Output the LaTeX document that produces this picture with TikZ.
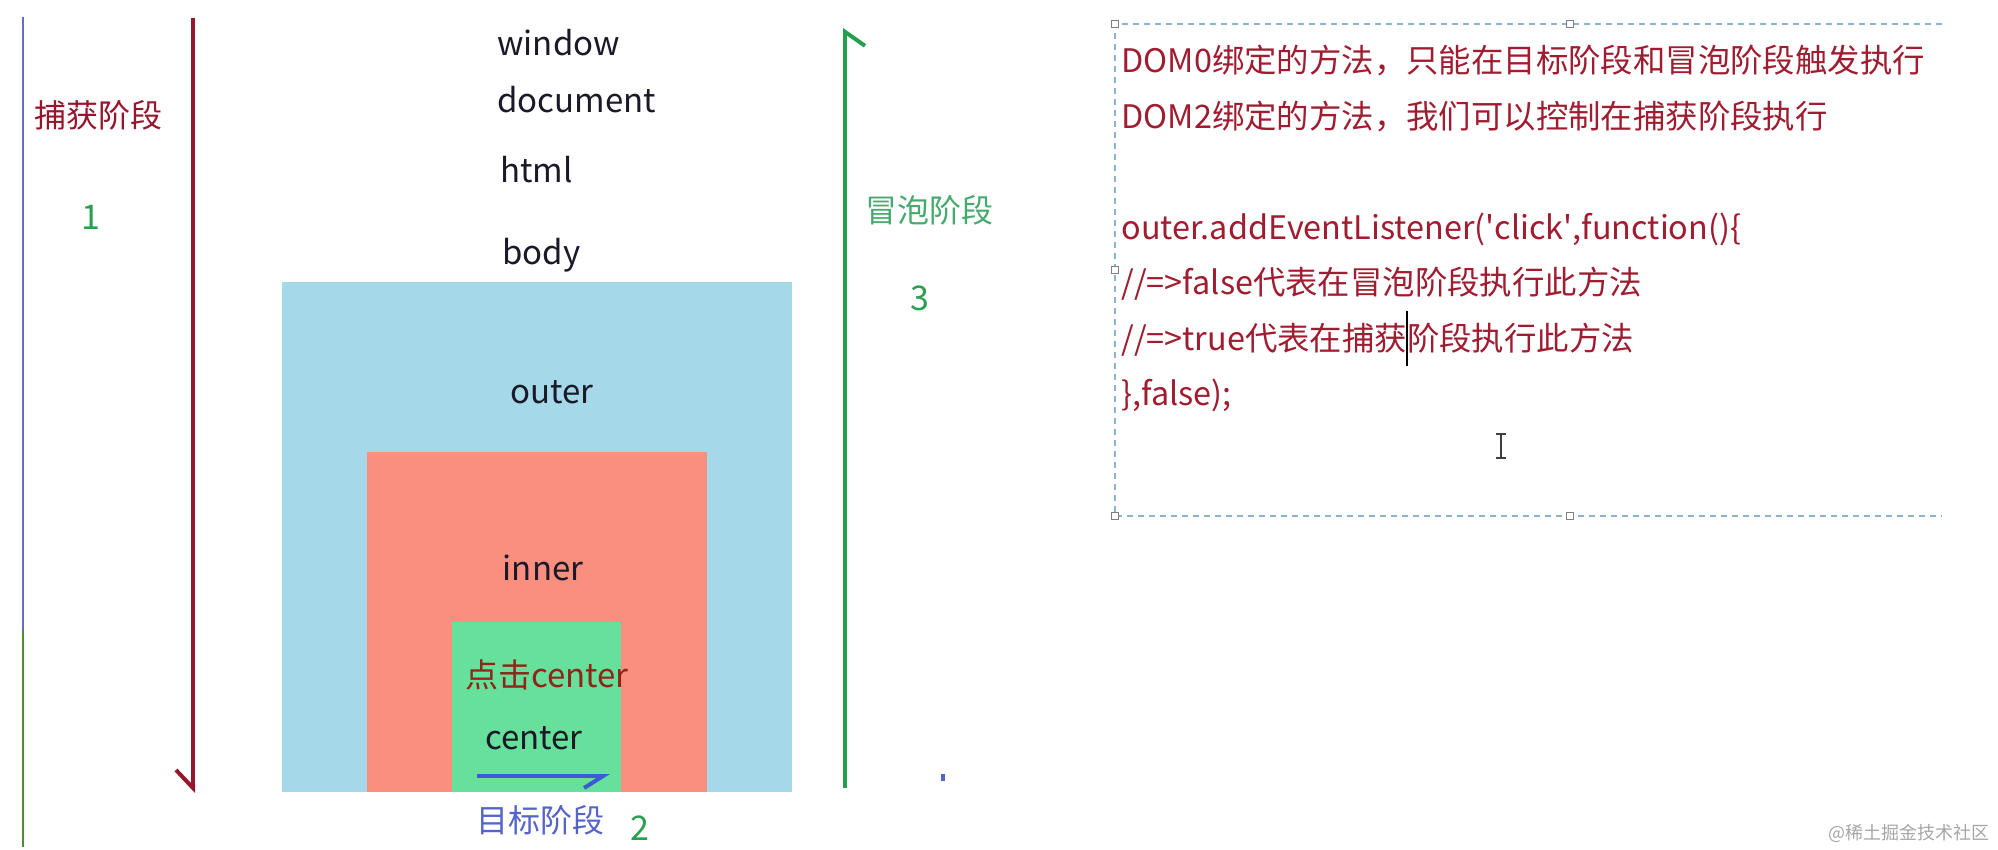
\documentclass[tikz,border=0pt]{standalone}
\usepackage{fontspec}
\setmainfont{Noto Sans CJK SC}
\usepackage{tikz}
\usetikzlibrary{positioning,arrows.meta}
\definecolor{capred}{RGB}{150,22,45}
\definecolor{bubgreen}{RGB}{34,160,80}
\definecolor{tgtblue}{RGB}{60,90,210}
\definecolor{outerblue}{RGB}{165,216,232}
\definecolor{innerred}{RGB}{250,143,128}
\definecolor{centergreen}{RGB}{102,224,154}
\definecolor{codered}{RGB}{160,28,48}
\definecolor{namegreen}{RGB}{70,170,110}
\definecolor{numgreen}{RGB}{40,160,80}
\definecolor{tgtname}{RGB}{85,100,200}
\definecolor{clickbrown}{RGB}{140,40,25}
\definecolor{selblue}{RGB}{140,180,210}
\definecolor{tagblack}{RGB}{25,25,40}
\definecolor{edgeblue}{RGB}{100,110,200}
\definecolor{edgegreen}{RGB}{80,140,50}
\newcommand{\inscaret}{\makebox[0pt]{\color{black}\rule[-8pt]{1pt}{27.5pt}}}
\tikzset{
  capture/.style={draw=capred, line width=2pt,
    -{Straight Barb[harpoon,swap,length=9pt,width=17pt]}},
  bubble/.style={draw=bubgreen, line width=2pt,
    -{Straight Barb[harpoon,swap,length=7pt,width=20pt]}},
  target/.style={draw=tgtblue, line width=2pt,
    -{Straight Barb[harpoon,swap,length=9.5pt,width=12pt]}},
  tag/.style={text=tagblack, font=\fontsize{16.5pt}{18pt}\selectfont, inner sep=0pt},
  phasename/.style={font=\fontsize{16pt}{18pt}\selectfont, inner sep=0pt},
  phasenum/.style={text=numgreen, font=\fontsize{17pt}{19pt}\selectfont, inner sep=0pt},
  codetext/.style={text=codered, align=left, inner sep=0pt,
    font=\fontsize{16.2pt}{27.75pt}\selectfont},
  selbox/.style={draw=selblue, line width=0.75pt, dash pattern=on 3pt off 2.5pt},
  handle/.style={draw=gray, fill=white, line width=0.6pt},
  ibeam/.style={draw=black!75, line width=1pt},
  watermark/.style={text=gray!70, font=\fontsize{9pt}{10pt}\selectfont, inner sep=0pt}
}
\begin{document}
\begin{tikzpicture}[x=0.5pt,y=-0.5pt]
  \useasboundingbox (0,0) rectangle (1998,850);

  % nested boxes
  \coordinate (outerNW) at (282,282);
  \coordinate (outerSE) at (792,792);
  \coordinate (innerNW) at (367,452);
  \coordinate (innerSE) at (707,792);
  \coordinate (centerNW) at (452,622);
  \coordinate (centerSE) at (621,792);
  \fill[outerblue] (outerNW) rectangle (outerSE);
  \fill[innerred] (innerNW) rectangle (innerSE);
  \fill[centergreen] (centerNW) rectangle (centerSE);

  % left edge
  \coordinate (edgeTop) at (23,17);
  \coordinate (edgeMid) at (23,630);
  \coordinate (edgeBot) at (23,847);
  \draw[edgeblue, line width=0.75pt] (edgeTop) -- (edgeMid);
  \draw[edgegreen, line width=0.75pt] (edgeMid) -- (edgeBot);

  % phase arrows
  \coordinate (capTop) at (193,18);
  \coordinate (capEnd) at (193,793);
  \draw[capture] (capTop) -- (capEnd);
  \coordinate (bubStart) at (845,788);
  \coordinate (bubEnd) at (845,28);
  \draw[bubble] (bubStart) -- (bubEnd);
  \coordinate (tgtStart) at (477,776);
  \coordinate (tgtEnd) at (610,776);
  \draw[target] (tgtStart) -- (tgtEnd);

  % window ... body
  \node[tag, anchor=west] (window) at (497,43) {window};
  \node[tag, below=28.5pt of window.west, anchor=west] (document) {document};
  \node[tag, below=35pt of document.west, anchor=west, xshift=1.5pt] (html) {html};
  \node[tag, below=42.5pt of html.west, anchor=west, xshift=1pt] (body) {body};

  \node[tag] (outer) at (552,392) {outer};
  \node[tag] (inner) at (543,568) {inner};
  \node[tag, text=clickbrown] (click) at (547,675) {点击center};
  \node[tag] (center) at (534,738) {center};

  % phase names
  \node[phasename, text=capred] (capname) at (98,115) {捕获阶段};
  \node[phasenum] (capnum) at (91,217) {1};
  \node[phasename, text=namegreen] (bubname) at (929,210) {冒泡阶段};
  \node[phasenum] (bubnum) at (920,298) {3};
  \node[phasename, text=tgtname] (tgtname) at (540,820) {目标阶段};
  \node[phasenum] (tgtnum) at (640,828) {2};
  \fill[tgtname] (941,774) rectangle (945,781);

  % text box on the right
  \coordinate (selNW) at (1115,24);
  \coordinate (selSW) at (1115,516);
  \coordinate (selNE) at (1942,24);
  \coordinate (selSE) at (1942,516);
  \draw[selbox] (selNE) -- (selNW) -- (selSW) -- (selSE);
  \foreach \hx/\hy in {1115/24,1570/24,1115/270,1115/516,1570/516}
    \draw[handle] (\hx-3.5,\hy-3.5) rectangle (\hx+3.5,\hy+3.5);

  \node[codetext, anchor=north west] (code) at (1121,45) {%
    DOM0绑定的方法，只能在目标阶段和冒泡阶段触发执行\\
    DOM2绑定的方法，我们可以控制在捕获阶段执行\\[27.75pt]
    outer.addEventListener(\textquotesingle click\textquotesingle,function()\{\\
    //=>false代表在冒泡阶段执行此方法\\
    //=>true代表在捕获\inscaret 阶段执行此方法\\
    \},false);};

  \draw[ibeam] (1501,434) -- (1501,458);
  \draw[ibeam] (1496,434) -- (1506,434) (1496,458) -- (1506,458);

  \node[watermark, anchor=east] (credit) at (1990,833) {@稀土掘金技术社区};
\end{tikzpicture}
\end{document}
